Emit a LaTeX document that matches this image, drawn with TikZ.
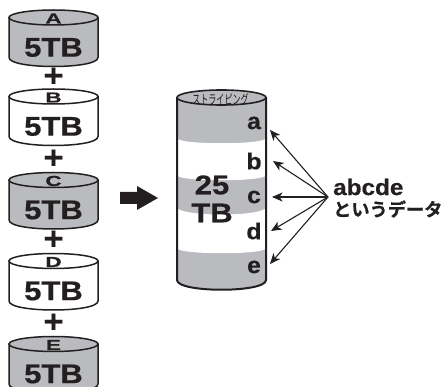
\documentclass[tikz,border=0pt]{standalone}
\usepackage{fontspec}
\setmainfont{Liberation Sans}
\newfontfamily\widesf[FakeStretch=1.15,FakeBold=0.6]{Liberation Sans}
\newfontfamily\boldsf[FakeStretch=1.08,FakeBold=0.4]{Liberation Sans}
\newfontfamily\jpb[FakeBold=0.8]{Noto Sans CJK JP Bold}
\newfontfamily\jpr{Noto Sans CJK JP}
\usetikzlibrary{arrows.meta}
\definecolor{bandgray}{RGB}{186,187,190}
\definecolor{inkblack}{RGB}{35,31,32}
\newcommand{\hddisk}[4]{% name, top-ellipse centre y, fill, letter
  \path[draw=inkblack,fill=#3,line width=1.5pt,line join=round]
    (9,#2) -- (9,#2+40) .. controls (9,#2+52) and (98,#2+52) .. (98,#2+40) -- (98,#2) -- cycle;
  \path[draw=inkblack,fill=#3,line width=1.5pt] (53.5,#2) ellipse [x radius=44.5,y radius=7.5];
  \node[disklabel] (#1top) at (53.5,#2+1) {\scalebox{1.35}[1]{\fontsize{14.5}{14.5}\selectfont #4}};
  \node[disklabel] (#1size) at (53.5,#2+30) {\fontsize{27}{27}\selectfont 5TB};
}
\tikzset{
  x=1pt,y=-1pt,
  disklabel/.style={inner sep=0pt,text=inkblack,font=\widesf\bfseries},
  plussign/.style={inner sep=0pt,text=inkblack,font=\boldsf\bfseries\fontsize{32}{32}\selectfont},
  cellabel/.style={inner sep=0pt,text=inkblack,font=\boldsf\bfseries\fontsize{23}{23}\selectfont},
  dataarrow/.style={draw=inkblack,line width=1.1pt,-{Stealth[length=10.5pt,width=9pt,inset=3pt]}},
}
\begin{document}
\begin{tikzpicture}
\useasboundingbox (0,0) rectangle (442,387);
\hddisk{A}{17.5}{bandgray}{A}
\hddisk{B}{96.5}{white}{B}
\hddisk{C}{180}{bandgray}{C}
\hddisk{D}{261}{white}{D}
\hddisk{E}{344}{bandgray}{E}
\node[plussign] (p1) at (53.5,77) {+};
\node[plussign] (p2) at (53.5,159) {+};
\node[plussign] (p3) at (53.5,240) {+};
\node[plussign] (p4) at (53.5,323) {+};
% big block arrow
\fill[inkblack] (120,192) -- (137,192) -- (137,186) -- (158,198) -- (137,210) -- (137,204) -- (120,204) -- cycle;
% big cylinder
\fill[bandgray] (177,97) -- (177,280) .. controls (177,293) and (266,293) .. (266,280) -- (266,97) -- cycle;
\fill[white] (177,138) .. controls (177,145) and (266,145) .. (266,138) -- (266,175) .. controls (266,182) and (177,182) .. (177,175) -- cycle;
\fill[white] (177,207) .. controls (177,217) and (266,217) .. (266,207) -- (266,248) .. controls (266,255) and (177,255) .. (177,248) -- cycle;
\draw[inkblack,line width=2pt,line join=round] (177,97) -- (177,280) .. controls (177,293) and (266,293) .. (266,280) -- (266,97);
\draw[inkblack,line width=1.6pt,fill=bandgray] (221.5,97.5) ellipse [x radius=44.5,y radius=7.5];
\node[inner sep=0pt,text=inkblack] (stripe) at (220.5,99.5) {\scalebox{0.62}[1]{\jpr\fontsize{13}{13}\selectfont ストライピング}};
\node[disklabel] (size25) at (212,185) {\fontsize{27}{27}\selectfont 25};
\node[disklabel] (sizeTB) at (212,213) {\fontsize{27}{27}\selectfont TB};
\node[cellabel] (a) at (254,123) {a};
\node[cellabel] (b) at (254,161) {b};
\node[cellabel] (c) at (254,197) {c};
\node[cellabel] (d) at (254,231) {d};
\node[cellabel] (e) at (254,267) {e};
% arrows
\coordinate (src) at (328,197);
\coordinate (ta) at (270,130);
\coordinate (tb) at (273,161);
\coordinate (tc) at (272,197);
\coordinate (td) at (271,231);
\coordinate (te) at (270,264);
\draw[dataarrow] (src) -- (ta);
\draw[dataarrow] (src) -- (tb);
\draw[dataarrow] (src) -- (tc);
\draw[dataarrow] (src) -- (td);
\draw[dataarrow] (src) -- (te);
\node[anchor=west,inner sep=0pt,text=inkblack,font=\boldsf\bfseries\fontsize{22.5}{22.5}\selectfont] (abcde) at (333,187) {abcde};
\node[anchor=west,inner sep=0pt,text=inkblack] (dataword) at (333,209) {\jpb\fontsize{18.2}{18.2}\selectfont というデータ};
\end{tikzpicture}
\end{document}
